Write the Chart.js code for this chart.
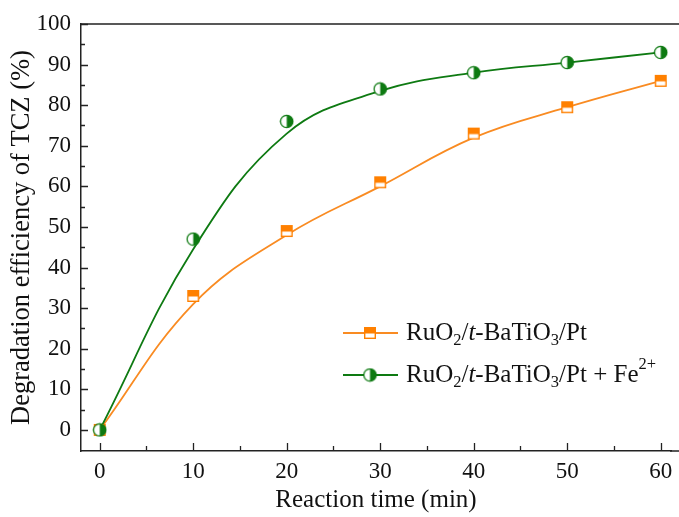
<!DOCTYPE html>
<html>
<head>
<meta charset="utf-8">
<script src="https://cdn.jsdelivr.net/npm/chart.js@4"></script>
<style>
  html, body { margin: 0; padding: 0; background: #fff; }
  #wrap { position: relative; width: 679px; height: 517px; overflow: hidden; }
  #probe { position: absolute; left: -999px; font-family: "Liberation Serif"; }
</style>
</head>
<body>
<div id="wrap"><canvas id="myChart" width="679" height="517"></canvas></div>
<span id="probe">Reaction <i>t</i> 0123456789</span>
<script>
// ---- data ----
const times = [0, 10, 20, 30, 40, 50, 60];
const ruo2Measured = [0, 33, 49, 61, 73, 79.5, 86];
const ruo2Fe2Measured = [0, 47, 76, 84, 88, 90.5, 93];
// fitted curves (as drawn in the figure), read at the same times
const ruo2Fit = [0, 31, 48, 60, 72, 79.5, 86];
const ruo2Fe2Fit = [0, 44.5, 73, 83.5, 88, 90.5, 93];

const xTicks = [0, 10, 20, 30, 40, 50, 60];
const xMinorTicks = [5, 15, 25, 35, 45, 55];
const yTicks = [0, 10, 20, 30, 40, 50, 60, 70, 80, 90, 100];
const yMinorTicks = [5, 15, 25, 35, 45, 55, 65, 75, 85, 95];

const legendLabels = [
  [["RuO", "n"], ["2", "sub"], ["/", "n"], ["t", "i"], ["-BaTiO", "n"], ["3", "sub"], ["/Pt", "n"]],
  [["RuO", "n"], ["2", "sub"], ["/", "n"], ["t", "i"], ["-BaTiO", "n"], ["3", "sub"], ["/Pt + Fe", "n"], ["2+", "sup"]]
];

const ORANGE = "#FF8000";
const ORANGE_LINE = "#F98B22";
const GREEN = "#0E7A12";
const FONT = '"Liberation Serif", "Times New Roman", Times, serif';
const CANVAS_W = 679;

// half-filled square: top half filled, bottom half open
function makeSquareMarker() {
  const c = document.createElement("canvas");
  c.width = 14; c.height = 14;
  const g = c.getContext("2d");
  g.fillStyle = "#fff";
  g.fillRect(1, 1, 12, 12);
  g.fillStyle = ORANGE;
  g.fillRect(1, 1, 12, 6.5);
  g.strokeStyle = ORANGE;
  g.lineWidth = 1.4;
  g.strokeRect(1.7, 1.7, 10.6, 10.6);
  return c;
}

// half-filled circle: right half filled, left half open
function makeCircleMarker() {
  const c = document.createElement("canvas");
  c.width = 15; c.height = 15;
  const g = c.getContext("2d");
  g.beginPath();
  g.arc(7.5, 7.5, 6.2, 0, Math.PI * 2);
  g.fillStyle = "#fff";
  g.fill();
  g.beginPath();
  g.moveTo(7.5, 1.3);
  g.arc(7.5, 7.5, 6.2, -Math.PI / 2, Math.PI / 2);
  g.closePath();
  g.fillStyle = GREEN;
  g.fill();
  g.beginPath();
  g.arc(7.5, 7.5, 6.2, 0, Math.PI * 2);
  g.strokeStyle = GREEN;
  g.lineWidth = 1.3;
  g.stroke();
  return c;
}

function toPoints(ys) {
  return times.map((t, i) => ({ x: t, y: ys[i] }));
}

// inward ticks + top frame line (the frame runs off the right edge of the figure)
const frameTicks = {
  id: "frameTicks",
  afterDatasetsDraw(chart) {
    const { ctx, chartArea } = chart;
    const xs = chart.scales.x, ys = chart.scales.y;
    ctx.save();
    ctx.strokeStyle = "#222";
    ctx.lineWidth = 1.5;
    ctx.beginPath();
    ctx.moveTo(chartArea.left, chartArea.top);
    ctx.lineTo(CANVAS_W, chartArea.top);
    ctx.moveTo(chartArea.right - 1, chartArea.bottom);
    ctx.lineTo(CANVAS_W, chartArea.bottom);
    ctx.stroke();
    ctx.lineWidth = 1.3;
    ctx.beginPath();
    xTicks.forEach(v => {
      const px = Math.round(xs.getPixelForValue(v)) + 0.5;
      ctx.moveTo(px, chartArea.bottom); ctx.lineTo(px, chartArea.bottom - 8);
    });
    xMinorTicks.forEach(v => {
      const px = Math.round(xs.getPixelForValue(v)) + 0.5;
      ctx.moveTo(px, chartArea.bottom); ctx.lineTo(px, chartArea.bottom - 5);
    });
    yTicks.forEach(v => {
      const py = Math.round(ys.getPixelForValue(v)) + 0.5;
      ctx.moveTo(chartArea.left, py); ctx.lineTo(chartArea.left + 7, py);
    });
    yMinorTicks.forEach(v => {
      const py = Math.round(ys.getPixelForValue(v)) + 0.5;
      ctx.moveTo(chartArea.left, py); ctx.lineTo(chartArea.left + 4, py);
    });
    ctx.stroke();
    ctx.restore();
  }
};

// legend with sub/superscripts, drawn inside the plot
function drawRich(ctx, parts, x, y, size) {
  parts.forEach(([txt, kind]) => {
    let fs = size, dy = 0, style = "";
    if (kind === "sub") { fs = size * 0.66; dy = size * 0.3; }
    if (kind === "sup") { fs = size * 0.66; dy = -size * 0.42; }
    if (kind === "i") style = "italic ";
    ctx.font = style + fs + "px " + FONT;
    ctx.fillText(txt, x, y + dy);
    x += ctx.measureText(txt).width;
  });
}

function makeLegend(squareMarker, circleMarker) {
  return {
    id: "richLegend",
    afterDraw(chart) {
      const ctx = chart.ctx;
      const rows = [
        { y: 333, color: ORANGE_LINE, marker: squareMarker },
        { y: 375, color: GREEN, marker: circleMarker }
      ];
      ctx.save();
      rows.forEach((r, i) => {
        ctx.strokeStyle = r.color;
        ctx.lineWidth = 1.8;
        ctx.beginPath();
        ctx.moveTo(343, r.y); ctx.lineTo(398, r.y);
        ctx.stroke();
        ctx.drawImage(r.marker, 370 - r.marker.width / 2, r.y - r.marker.height / 2);
        ctx.fillStyle = "#111";
        ctx.textBaseline = "middle";
        drawRich(ctx, legendLabels[i], 406, r.y, 25);
      });
      ctx.restore();
    }
  };
}

let graphChart;

function buildChart() {
  const squareMarker = makeSquareMarker();
  const circleMarker = makeCircleMarker();
  const tickFont = { family: FONT, size: 23 };
  const xTickFont = { family: FONT, size: 23, lineHeight: 1.85 };

  const ctx = document.getElementById("myChart");
  graphChart = new Chart(ctx, {
    type: "line",
    data: {
      datasets: [
        {
          label: "RuO2/t-BaTiO3/Pt + Fe2+ (data)",
          data: toPoints(ruo2Fe2Measured),
          showLine: false,
          pointStyle: circleMarker,
          pointRadius: 7,
          order: 0
        },
        {
          label: "RuO2/t-BaTiO3/Pt (data)",
          data: toPoints(ruo2Measured),
          showLine: false,
          pointStyle: squareMarker,
          pointRadius: 7,
          order: 1
        },
        {
          label: "RuO2/t-BaTiO3/Pt + Fe2+",
          data: toPoints(ruo2Fe2Fit),
          borderColor: GREEN,
          borderWidth: 1.8,
          pointRadius: 0,
          tension: 0.4,
          order: 2
        },
        {
          label: "RuO2/t-BaTiO3/Pt",
          data: toPoints(ruo2Fit),
          borderColor: ORANGE_LINE,
          borderWidth: 1.8,
          pointRadius: 0,
          tension: 0.4,
          order: 3
        }
      ]
    },
    options: {
      responsive: false,
      animation: false,
      layout: { padding: { top: 24, right: 0, left: 0, bottom: 0 } },
      plugins: {
        legend: { display: false },
        tooltip: { enabled: false }
      },
      scales: {
        x: {
          type: "linear",
          min: -2,
          max: 62,
          afterBuildTicks: s => { s.ticks = xTicks.map(v => ({ value: v })); },
          afterFit: s => { s.height = 66; },
          grid: { display: false, drawTicks: false },
          border: { display: true, color: "#222", width: 1.5 },
          ticks: { font: xTickFont, color: "#111", padding: 0, maxRotation: 0 },
          title: { display: true, text: "Reaction time (min)", font: { family: FONT, size: 25 }, color: "#111", padding: { top: 0, bottom: 2 } }
        },
        y: {
          min: -5.2,
          max: 100,
          afterBuildTicks: s => { s.ticks = yTicks.map(v => ({ value: v })); },
          afterFit: s => { s.width = 81; },
          grid: { display: false, drawTicks: false },
          border: { display: true, color: "#222", width: 1.5 },
          ticks: { font: tickFont, color: "#111", padding: 10 },
          title: { display: true, text: "Degradation efficiency of TCZ (%)", font: { family: FONT, size: 26.5 }, color: "#111", padding: { top: 6, bottom: 0 } }
        }
      }
    },
    plugins: [frameTicks, makeLegend(squareMarker, circleMarker)]
  });

  // keep the figure's scale (0 min at x≈99, 60 min at x≈660) whatever right edge the layout gives
  const area = graphChart.chartArea;
  const pxPerMin = (660 - 99) / 60;
  const xMin = -2;
  graphChart.options.scales.x.min = xMin;
  graphChart.options.scales.x.max = xMin + (area.right - area.left) / pxPerMin;
  graphChart.update();
}

Promise.all([
  document.fonts.load('23px "Liberation Serif"'),
  document.fonts.load('italic 23px "Liberation Serif"')
]).then(buildChart, buildChart);
</script>
</body>
</html>
